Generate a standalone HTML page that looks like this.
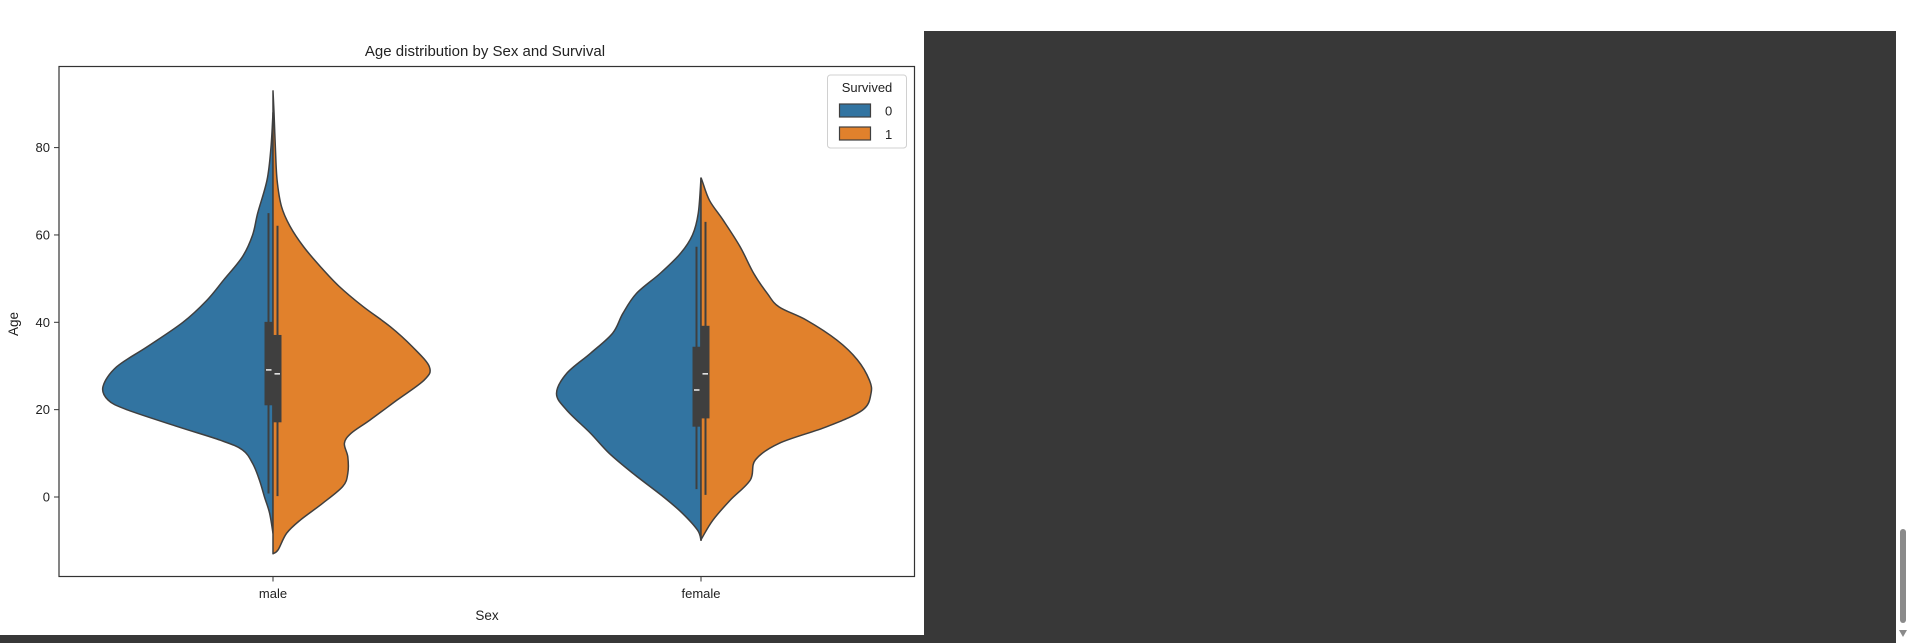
<!DOCTYPE html>
<html><head><meta charset="utf-8">
<style>
html,body{margin:0;padding:0;background:#fff;width:1909px;height:643px;overflow:hidden;font-family:"Liberation Sans","DejaVu Sans",sans-serif;}
svg{position:absolute;left:0;top:0}
</style></head>
<body>
<svg id="chart" width="1909" height="643" xmlns="http://www.w3.org/2000/svg">
  <rect x="924" y="31" width="972" height="612" fill="#383838"/>
  <rect x="0" y="635" width="924" height="8" fill="#383838"/>
  <rect x="1900" y="529" width="6" height="94" rx="3" fill="#8a8a8a"/>
  <polygon points="1899,630 1907,630 1903,637" fill="#8a8a8a"/>
  <text x="485" y="56" font-size="15" text-anchor="middle" fill="#222">Age distribution by Sex and Survival</text>
  <g id="plot"></g>
  <rect x="59" y="66.5" width="855.5" height="510" fill="none" stroke="#333" stroke-width="1.2"/>
  <text x="487" y="620" font-size="13.5" text-anchor="middle" fill="#222">Sex</text>
  <text x="0" y="0" font-size="13.5" text-anchor="middle" fill="#222" transform="translate(18,324) rotate(-90)">Age</text>
  <g>
    <rect x="827.5" y="75" width="79" height="73" rx="3" fill="#fff" fill-opacity="0.8" stroke="#d0d0d0"/>
    <text x="867" y="92" font-size="13" text-anchor="middle" fill="#222">Survived</text>
    <rect x="839.5" y="104" width="31" height="13" fill="#3274a1" stroke="#3f3f3f" stroke-width="1.2"/>
    <text x="885" y="115.5" font-size="13" fill="#222">0</text>
    <rect x="839.5" y="127" width="31" height="13" fill="#e1812c" stroke="#3f3f3f" stroke-width="1.2"/>
    <text x="885" y="139" font-size="13" fill="#222">1</text>
  </g>
</svg>
<script>
const categories = ["male", "female"];
const yTicks = [0, 20, 40, 60, 80];
const maleDiedAges = [-8.3,-3.7,0,3.9,7.7,10.8,13,16.1,20,22.2,25.3,29.8,34.4,40,45,49.7,55,60,65,72.6,80,88];
const maleDiedDensity = [0,.02,.05,.08,.12,.18,.31,.56,.86,.97,1,.92,.74,.53,.39,.29,.18,.12,.09,.035,.012,0];
const maleSurvAges = [-13,-12.1,-8.3,-5.3,-1.5,2.4,5.4,9.2,12.3,14.6,17.6,22.2,26.8,29.8,34.4,39,43.6,48.2,52.7,57.3,62,66.5,72.6,80,88,93];
const maleSurvDensity = [0,.03,.08,.16,.29,.41,.44,.44,.42,.46,.57,.73,.89,.92,.82,.69,.53,.39,.28,.18,.10,.05,.024,.014,.006,0];
const femaleDiedAges = [-9.9,-7.6,-3.7,0,5.4,10,14.6,19.9,23.7,28.3,32.9,37.5,42,46.6,51.2,55.8,60,65,73];
const femaleDiedDensity = [0,.02,.11,.22,.40,.54,.65,.79,.85,.79,.65,.52,.46,.38,.24,.12,.05,.016,0];
const femaleSurvAges = [-9.9,-9.1,-5.3,-0.8,3.9,8.5,12.3,16.1,19.9,23.7,26.8,31.4,35.9,40.5,43.5,46.6,51.2,57.3,63.4,67.9,72.5,73];
const femaleSurvDensity = [0,.01,.07,.17,.29,.32,.46,.74,.95,1.0,.99,.92,.80,.62,.46,.39,.31,.23,.13,.05,.006,0];
// box stats: [whiskerLow, q1, median, q3, whiskerHigh]
const maleDiedBox = [0.8, 21, 29.1, 40.1, 65];
const maleSurvBox = [0.2, 17.1, 28.2, 37.1, 62.1];
const femaleDiedBox = [1.8, 16.1, 24.5, 34.4, 57.3];
const femaleSurvBox = [0.5, 18, 28.2, 39.2, 63];

const NS = "http://www.w3.org/2000/svg";
const plot = document.getElementById("plot");
const svg = document.getElementById("chart");
function y(v){ return 497 - v * 4.3675; }
function xCat(i){ return 273 + i * 428; }
const W = 170;
function el(tag, attrs, parent){
  const e = document.createElementNS(NS, tag);
  for (const k in attrs) e.setAttribute(k, attrs[k]);
  (parent || plot).appendChild(e);
  return e;
}
function smooth(pts){
  let d = "M" + pts[0][0] + "," + pts[0][1];
  for (let i = 0; i < pts.length - 1; i++){
    const p0 = pts[Math.max(0,i-1)], p1 = pts[i], p2 = pts[i+1], p3 = pts[Math.min(pts.length-1,i+2)];
    const c1x = p1[0] + (p2[0]-p0[0])/6, c1y = p1[1] + (p2[1]-p0[1])/6;
    const c2x = p2[0] - (p3[0]-p1[0])/6, c2y = p2[1] - (p3[1]-p1[1])/6;
    d += " C" + c1x.toFixed(2) + "," + c1y.toFixed(2) + " " + c2x.toFixed(2) + "," + c2y.toFixed(2) + " " + p2[0].toFixed(2) + "," + p2[1].toFixed(2);
  }
  return d;
}
function half(ci, ages, dens, side, color, name){
  const cx = xCat(ci);
  const pts = ages.map((a, k) => [cx + side * dens[k] * W, y(a)]);
  let d = smooth(pts);
  d += " L" + cx + "," + y(ages[ages.length-1]) + " L" + cx + "," + y(ages[0]) + " Z";
  const p = el("path", {d: d, fill: color, stroke: "#3f3f3f", "stroke-width": 1.5, "stroke-linejoin": "round"});
  
  
}
function box(ci, stats, side, name){
  const cx = xCat(ci);
  const wx = cx + side * 4.5;
  const l = el("line", {x1: wx, x2: wx, y1: y(stats[0]), y2: y(stats[4]), stroke: "#3f3f3f", "stroke-width": 2});
  
  
  const bx = side < 0 ? cx - 8.5 : cx;
  const r = el("rect", {x: bx, y: y(stats[3]), width: 8.5, height: y(stats[1]) - y(stats[3]), fill: "#3f3f3f"});
  
  
  const m = el("line", {x1: bx + 1.5, x2: bx + 7, y1: y(stats[2]), y2: y(stats[2]), stroke: "#f0f0f0", "stroke-width": 1.5});
  
  
}
half(0, maleDiedAges, maleDiedDensity, -1, "#3274a1", "violin-male-died");
half(0, maleSurvAges, maleSurvDensity, 1, "#e1812c", "violin-male-survived");
half(1, femaleDiedAges, femaleDiedDensity, -1, "#3274a1", "violin-female-died");
half(1, femaleSurvAges, femaleSurvDensity, 1, "#e1812c", "violin-female-survived");
box(0, maleDiedBox, -1, "male-died");
box(0, maleSurvBox, 1, "male-survived");
box(1, femaleDiedBox, -1, "female-died");
box(1, femaleSurvBox, 1, "female-survived");

yTicks.forEach(v => {
  const t = el("line", {x1: 54, x2: 59, y1: y(v), y2: y(v), stroke: "#333", "stroke-width": 1}, svg);
  
  
  const tx = el("text", {x: 50, y: y(v) + 4.5, "font-size": 13, "text-anchor": "end", fill: "#222"}, svg);
  tx.textContent = v;
  
  
});
categories.forEach((c, i) => {
  const t = el("line", {x1: xCat(i), x2: xCat(i), y1: 576.5, y2: 581.5, stroke: "#333", "stroke-width": 1}, svg);
  
  
  const tx = el("text", {x: xCat(i), y: 598, "font-size": 13, "text-anchor": "middle", fill: "#222"}, svg);
  tx.textContent = c;
  
  
});
</script>
</body></html>
